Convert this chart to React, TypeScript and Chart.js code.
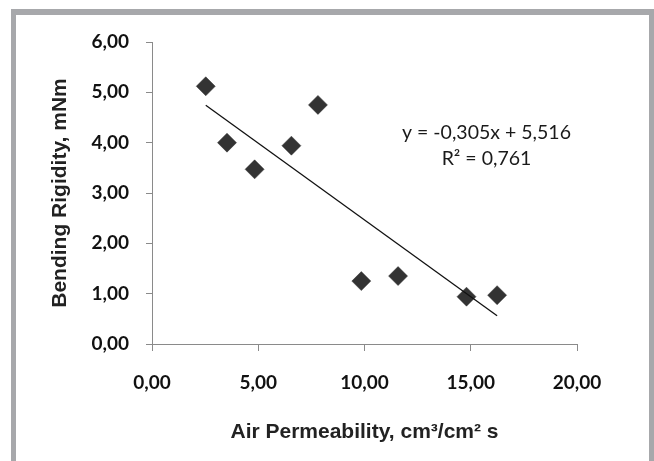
import React, { useEffect, useRef } from "react";
import { Chart, registerables } from "chart.js";

Chart.register(...registerables);

// Data
const airPermeability = [2.53, 3.53, 4.83, 6.56, 7.81, 9.85, 11.58, 14.8, 16.24];
const bendingRigidity = [5.12, 4.0, 3.47, 3.94, 4.75, 1.25, 1.35, 0.94, 0.97];
const trendX = [2.53, 16.24];
const trendY = [4.744, 0.563];
const equationLines = ["y = -0,305x + 5,516", "R² = 0,761"];
const xTitle = "Air Permeability, cm³/cm² s";
const yTitle = "Bending Rigidity, mNm";

const fmt = (v: number | string) => Number(v).toFixed(2).replace(".", ",");

const equationPlugin = {
  id: "equationText",
  afterDatasetsDraw(chart: any) {
    const ctx = chart.ctx;
    const xs = chart.scales.x;
    const ys = chart.scales.y;
    ctx.save();
    ctx.fillStyle = "#1a1a1a";
    ctx.font = "19.5px Lato";
    ctx.textAlign = "center";
    ctx.textBaseline = "middle";
    const cx = xs.getPixelForValue(15.74);
    ctx.fillText(equationLines[0], cx, ys.getPixelForValue(4.2));
    ctx.fillText(equationLines[1], cx, ys.getPixelForValue(3.68));
    ctx.restore();
  },
};

export default function App() {
  const ref = useRef<HTMLCanvasElement | null>(null);

  useEffect(() => {
    if (!ref.current) return;
    const axisColor = "#8a8a8a";
    const chart = new Chart(ref.current, {
      type: "scatter",
      data: {
        datasets: [
          {
            label: "data",
            data: airPermeability.map((x, i) => ({ x, y: bendingRigidity[i] })),
            pointStyle: "rectRot",
            pointRadius: 9.5,
            pointHoverRadius: 9.5,
            backgroundColor: "#333333",
            borderColor: "#333333",
            borderWidth: 0.5,
            order: 2,
          },
          {
            label: "trend",
            data: trendX.map((x, i) => ({ x, y: trendY[i] })),
            showLine: true,
            pointRadius: 0,
            borderColor: "#111111",
            borderWidth: 1.3,
            order: 1,
          },
        ],
      },
      options: {
        animation: false,
        responsive: true,
        maintainAspectRatio: false,
        layout: { padding: { left: 0, right: 77, top: 42, bottom: 0 } },
        plugins: { legend: { display: false }, tooltip: { enabled: false } },
        scales: {
          x: {
            type: "linear",
            min: 0,
            max: 20,
            afterFit: (s: any) => {
              s.height = 117;
            },
            ticks: {
              stepSize: 5,
              callback: (v: any) => fmt(v),
              color: "#111111",
              font: { family: "Lato", size: 19, weight: "bold" },
              padding: 20,
            },
            grid: {
              drawOnChartArea: false,
              drawTicks: true,
              tickLength: 7,
              color: axisColor,
            },
            border: { display: true, color: axisColor, width: 1 },
            title: {
              display: true,
              text: xTitle,
              color: "#222222",
              font: { family: "Liberation Sans", size: 21, weight: "bold" },
              padding: { top: 0, bottom: 16.5 },
            },
          },
          y: {
            type: "linear",
            min: 0,
            max: 6,
            afterFit: (s: any) => {
              s.width = 152;
            },
            ticks: {
              stepSize: 1,
              callback: (v: any) => fmt(v),
              color: "#111111",
              font: { family: "Lato", size: 19, weight: "bold" },
              padding: 17,
            },
            grid: {
              drawOnChartArea: false,
              drawTicks: true,
              tickLength: 6,
              color: axisColor,
            },
            border: { display: true, color: axisColor, width: 1 },
            title: {
              display: true,
              text: yTitle,
              color: "#222222",
              font: { family: "Liberation Sans", size: 21, weight: "bold" },
              padding: { top: 47.5, bottom: 0 },
            },
          },
        },
      },
      plugins: [equationPlugin],
    });
    return () => chart.destroy();
  }, []);

  return (
    <div style={{ position: "absolute", left: 0, top: 0, width: 654, height: 461, overflow: "hidden", background: "#ffffff" }}>
      <div
        style={{
          position: "absolute",
          left: 11,
          top: 9,
          width: 643,
          height: 480,
          boxSizing: "border-box",
          borderTop: "6px solid #a7a8ab",
          borderLeft: "5px solid #a7a8ab",
          borderRight: "5px solid #a7a8ab",
        }}
      />
      <canvas ref={ref} style={{ position: "absolute", left: 0, top: 0 }} />
    </div>
  );
}
